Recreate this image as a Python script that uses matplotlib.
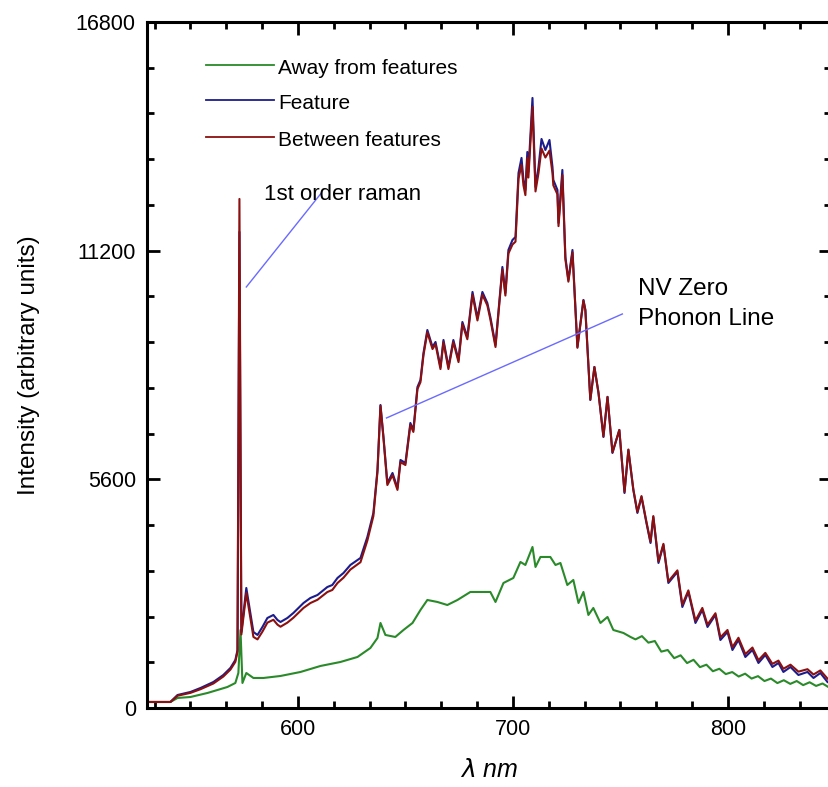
import matplotlib
matplotlib.use("Agg")
import matplotlib.pyplot as plt
from matplotlib.ticker import MultipleLocator
import numpy as np

plt.rcParams['font.family'] = ['Liberation Sans', 'DejaVu Sans']

# wavelength grid shared by the two upper spectra (nm)
wl = [530.0, 540.7, 544.0, 550.0, 554.7, 560.7, 565.3, 568.6, 570.9, 571.9,
      572.8, 573.7, 576.0, 579.3, 581.2, 583.5, 585.8, 588.6, 590.5, 591.9,
      595.1, 597.9, 602.6, 605.8, 609.1, 613.7, 616.0, 618.4, 621.2, 624.4,
      629.1, 632.3, 635.1, 637.0, 638.4, 639.8, 641.6, 644.0, 646.3, 647.7,
      650.0, 652.3, 653.7, 655.6, 657.0, 658.4, 660.2, 662.6, 664.0, 666.3,
      667.7, 670.0, 672.3, 674.7, 676.5, 678.8, 681.2, 683.5, 685.8, 688.1,
      689.5, 691.9, 695.1, 696.5, 697.9, 699.8, 701.2, 702.6, 704.0, 704.9,
      705.8, 706.7, 707.2, 709.1, 710.5, 711.9, 713.3, 715.1, 717.0, 718.4,
      718.8, 720.7, 721.2, 723.0, 724.4, 725.8, 727.7, 730.0, 732.8, 733.7,
      736.0, 737.9, 739.8, 742.1, 744.0, 746.3, 747.7, 749.5, 751.9, 753.7,
      756.0, 757.9, 759.8, 762.1, 764.0, 765.3, 767.7, 770.0, 772.3, 776.5,
      778.8, 781.6, 784.9, 788.1, 790.5, 794.2, 796.5, 799.8, 802.1, 804.9,
      808.1, 811.4, 814.2, 817.4, 820.7, 823.5, 825.8, 829.1, 832.8, 837.0,
      839.8, 843.0, 846.3]

feature = [147, 147, 318, 392, 490, 637, 808, 980, 1176, 1420,
           11657, 1861, 2939, 1861, 1788, 1984, 2204, 2278, 2155, 2106,
           2204, 2327, 2571, 2694, 2767, 2963, 3012, 3184, 3306, 3502,
           3674, 4188, 4776, 5829, 7420, 6637, 5510, 5755, 5388, 6074,
           6000, 6980, 6808, 7861, 8033, 8694, 9257, 8841, 8963, 8351,
           9012, 8351, 9012, 8522, 9453, 9086, 10188, 9551, 10188, 9918,
           9576, 8890, 10800, 10163, 11216, 11461, 11535, 13102, 13470, 12931,
           12686, 13616, 13127, 14939, 12759, 13249, 13935, 13665, 13910, 13249,
           12931, 12686, 11878, 13176, 11045, 10482, 11216, 8841, 9992, 9747,
           7543, 8351, 7714, 6637, 7616, 6245, 6490, 6808, 5265, 6318,
           5339, 4776, 5167, 4531, 4041, 4678, 3551, 3992, 3061, 3331,
           2473, 2841, 2082, 2400, 1984, 2278, 1665, 1861, 1420, 1665,
           1249, 1420, 1102, 1298, 1004, 1102, 882, 1004, 808, 882,
           735, 857, 637]

between = [147, 147, 300, 370, 460, 600, 770, 940, 1130, 1380,
           12466, 1800, 2820, 1740, 1680, 1870, 2090, 2160, 2040, 1990,
           2090, 2210, 2450, 2570, 2650, 2840, 2890, 3060, 3190, 3390,
           3570, 4100, 4700, 5780, 7400, 6600, 5460, 5700, 5340, 6020,
           5950, 6930, 6760, 7810, 7980, 8640, 9200, 8790, 8910, 8300,
           8960, 8300, 8960, 8470, 9400, 9030, 10120, 9490, 10120, 9860,
           9520, 8840, 10740, 10100, 11130, 11350, 11420, 12960, 13300, 12800,
           12560, 13470, 12990, 14720, 12650, 13100, 13700, 13480, 13650, 13100,
           12800, 12580, 11800, 13050, 10990, 10440, 11160, 8820, 9980, 9740,
           7550, 8350, 7720, 6650, 7620, 6260, 6500, 6810, 5290, 6330,
           5360, 4800, 5190, 4560, 4070, 4700, 3590, 4020, 3100, 3370,
           2530, 2880, 2140, 2450, 2040, 2320, 1730, 1910, 1490, 1720,
           1320, 1480, 1170, 1350, 1080, 1160, 960, 1060, 890, 950,
           820, 920, 720]

wl_away = [530.0, 540.7, 544.0, 550.0, 557.9, 562.6, 567.2, 570.9, 572.3, 573.3,
           574.2, 576.0, 579.3, 584.0, 591.9, 601.2, 610.5, 619.8, 627.7, 633.7,
           637.0, 638.4, 640.7, 645.3, 649.1, 653.3, 657.0, 660.2, 664.9, 669.5,
           674.2, 680.2, 684.9, 689.5, 691.9, 695.6, 700.2, 703.5, 705.8, 709.1,
           710.5, 712.8, 717.4, 719.8, 722.1, 725.3, 728.1, 730.5, 732.8, 735.1,
           737.4, 740.7, 744.0, 746.7, 751.4, 754.7, 757.0, 760.0, 763.0, 766.0,
           769.0, 772.0, 775.0, 778.0, 781.0, 784.0, 787.0, 790.0, 793.0, 796.0,
           799.0, 802.0, 805.0, 808.0, 811.0, 814.0, 817.0, 820.0, 823.0, 826.0,
           829.0, 832.0, 835.0, 838.0, 841.0, 844.0, 846.5]

away = [147, 147, 245, 269, 367, 441, 514, 612, 857, 1910,
        612, 857, 735, 735, 784, 882, 1029, 1127, 1249, 1469,
        1714, 2082, 1788, 1739, 1910, 2082, 2400, 2645, 2596, 2522,
        2645, 2841, 2841, 2841, 2596, 3061, 3184, 3576, 3502, 3943,
        3453, 3698, 3698, 3502, 3551, 3012, 3135, 2571, 2841, 2278,
        2449, 2082, 2229, 1910, 1837, 1739, 1680, 1760, 1600, 1640,
        1380, 1420, 1220, 1290, 1100, 1180, 1000, 1060, 900, 960,
        830, 880, 770, 840, 720, 780, 660, 720, 610, 680,
        590, 660, 560, 630, 540, 600, 520]

series_names = ['Away from features', 'Feature', 'Between features']
colors = ['#2a8a2a', '#1c1c8c', '#8c1010']

fig = plt.figure(figsize=(8.29, 7.87), dpi=100)
ax = fig.add_axes([0.1773, 0.1004, 0.825, 0.8717])

ax.plot(wl_away, away, color=colors[0], lw=1.5)
ax.plot(wl, feature, color=colors[1], lw=1.5)
ax.plot(wl, between, color=colors[2], lw=1.5)

ax.set_xlim(529.8, 847.9)
ax.set_ylim(0, 16800)
ax.set_yticks([0, 5600, 11200, 16800])
ax.set_xticks([600, 700, 800])
ax.xaxis.set_minor_locator(MultipleLocator(100 / 6))
ax.yaxis.set_minor_locator(MultipleLocator(1120))

for s in ax.spines.values():
    s.set_linewidth(2.2)
ax.tick_params(which='both', direction='in', top=True, right=True,
               width=2, labelsize=15.5, pad=8)
ax.tick_params(which='major', length=9)
ax.tick_params(which='minor', length=5)

ax.set_ylabel('Intensity (arbitrary units)', fontsize=17.5, labelpad=26)
ax.set_xlabel(r'$\lambda$ nm', fontsize=18, style='italic', labelpad=13)

# legend drawn by hand, as in the original
leg_y = [0.937, 0.886, 0.832]
for name, c, yy in zip(series_names, colors, leg_y):
    ax.plot([0.0865, 0.185], [yy, yy], color=c, lw=1.3, transform=ax.transAxes)
    ax.text(0.192, yy - 0.005, name, transform=ax.transAxes, fontsize=15,
            va='center')

# annotations
ax.plot([576.0, 610.9], [10310, 12612], color='#6a6aff', lw=1.0)
ax.text(584.0, 12563, '1st order raman', fontsize=16, va='center')
ax.plot([641.2, 750.9], [7102, 9649], color='#6a6aff', lw=1.0)
ax.text(758.4, 9900, 'NV Zero\nPhonon Line', fontsize=17.5, va='center',
        linespacing=1.45)

fig.savefig('out.png', dpi=100)
